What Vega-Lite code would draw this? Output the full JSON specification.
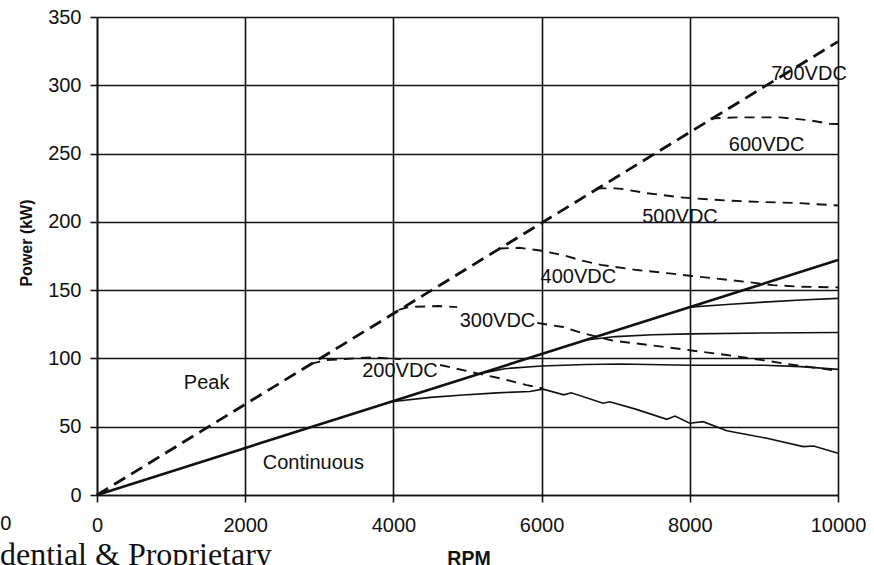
{
  "$schema": "https://vega.github.io/schema/vega-lite/v6.json",
  "width": 741,
  "height": 478,
  "autosize": {"type": "none"},
  "padding": {"left": 97, "top": 17, "right": 36, "bottom": 70},
  "background": "white",
  "config": {
    "view": {"stroke": null},
    "axis": {
      "domainColor": "#111", "domainWidth": 1.6,
      "gridColor": "#111", "gridWidth": 1.6, "gridOpacity": 1,
      "tickColor": "#111", "tickWidth": 1.6, "tickSize": 7,
      "labelFont": "Liberation Sans", "labelFontSize": 20, "labelColor": "#111",
      "labelFlush": false, "labelOverlap": false, "format": "d",
      "titleFont": "Liberation Sans", "titleFontWeight": "bold", "titleColor": "#111"
    }
  },
  "datasets": {
    "curves": [
      {"curve": "Peak", "kind": "envelope-peak", "rpm": 0, "kw": 0},
      {"curve": "Peak", "kind": "envelope-peak", "rpm": 10000, "kw": 332},
      {"curve": "Continuous", "kind": "envelope-continuous", "rpm": 0, "kw": 0},
      {"curve": "Continuous", "kind": "envelope-continuous", "rpm": 10000, "kw": 172},

      {"curve": "200VDC", "kind": "peak", "rpm": 2880, "kw": 96},
      {"curve": "200VDC", "kind": "peak", "rpm": 3100, "kw": 98.8},
      {"curve": "200VDC", "kind": "peak", "rpm": 3400, "kw": 99.8},
      {"curve": "200VDC", "kind": "peak", "rpm": 3700, "kw": 100.8},
      {"curve": "200VDC", "kind": "peak", "rpm": 4100, "kw": 99.5},
      {"curve": "200VDC", "kind": "peak", "rpm": 4400, "kw": null},
      {"curve": "200VDC", "kind": "peak", "rpm": 4630, "kw": 95.2},
      {"curve": "200VDC", "kind": "peak", "rpm": 5030, "kw": 90.3},
      {"curve": "200VDC", "kind": "peak", "rpm": 5440, "kw": 85.4},
      {"curve": "200VDC", "kind": "peak", "rpm": 5800, "kw": 80.5},
      {"curve": "200VDC", "kind": "peak", "rpm": 6020, "kw": 78},

      {"curve": "300VDC", "kind": "peak", "rpm": 4070, "kw": 135.5},
      {"curve": "300VDC", "kind": "peak", "rpm": 4200, "kw": 137.6},
      {"curve": "300VDC", "kind": "peak", "rpm": 4600, "kw": 138.4},
      {"curve": "300VDC", "kind": "peak", "rpm": 4860, "kw": 137.6},
      {"curve": "300VDC", "kind": "peak", "rpm": 5400, "kw": null},
      {"curve": "300VDC", "kind": "peak", "rpm": 5940, "kw": 126},
      {"curve": "300VDC", "kind": "peak", "rpm": 6290, "kw": 123},
      {"curve": "300VDC", "kind": "peak", "rpm": 6520, "kw": 119},
      {"curve": "300VDC", "kind": "peak", "rpm": 6960, "kw": 113},
      {"curve": "300VDC", "kind": "peak", "rpm": 7500, "kw": 109.5},
      {"curve": "300VDC", "kind": "peak", "rpm": 8000, "kw": 106},
      {"curve": "300VDC", "kind": "peak", "rpm": 8500, "kw": 102.5},
      {"curve": "300VDC", "kind": "peak", "rpm": 9040, "kw": 98.3},
      {"curve": "300VDC", "kind": "peak", "rpm": 9310, "kw": 95.9},
      {"curve": "300VDC", "kind": "peak", "rpm": 10000, "kw": 91},

      {"curve": "400VDC", "kind": "peak", "rpm": 5420, "kw": 180.5},
      {"curve": "400VDC", "kind": "peak", "rpm": 5700, "kw": 181},
      {"curve": "400VDC", "kind": "peak", "rpm": 5980, "kw": 179},
      {"curve": "400VDC", "kind": "peak", "rpm": 6300, "kw": 175.5},
      {"curve": "400VDC", "kind": "peak", "rpm": 6520, "kw": 172},
      {"curve": "400VDC", "kind": "peak", "rpm": 6800, "kw": 168.5},
      {"curve": "400VDC", "kind": "peak", "rpm": 7290, "kw": 164.7},
      {"curve": "400VDC", "kind": "peak", "rpm": 7690, "kw": 162.5},
      {"curve": "400VDC", "kind": "peak", "rpm": 8000, "kw": 160.5},
      {"curve": "400VDC", "kind": "peak", "rpm": 8310, "kw": 158.8},
      {"curve": "400VDC", "kind": "peak", "rpm": 8770, "kw": 156},
      {"curve": "400VDC", "kind": "peak", "rpm": 9120, "kw": 153.7},
      {"curve": "400VDC", "kind": "peak", "rpm": 9500, "kw": 152.5},
      {"curve": "400VDC", "kind": "peak", "rpm": 10000, "kw": 152},

      {"curve": "500VDC", "kind": "peak", "rpm": 6740, "kw": 224.5},
      {"curve": "500VDC", "kind": "peak", "rpm": 7000, "kw": 224.5},
      {"curve": "500VDC", "kind": "peak", "rpm": 7100, "kw": 224},
      {"curve": "500VDC", "kind": "peak", "rpm": 7420, "kw": 221},
      {"curve": "500VDC", "kind": "peak", "rpm": 7870, "kw": 218},
      {"curve": "500VDC", "kind": "peak", "rpm": 8100, "kw": 217},
      {"curve": "500VDC", "kind": "peak", "rpm": 8540, "kw": 215.5},
      {"curve": "500VDC", "kind": "peak", "rpm": 9000, "kw": 214.5},
      {"curve": "500VDC", "kind": "peak", "rpm": 9450, "kw": 213.8},
      {"curve": "500VDC", "kind": "peak", "rpm": 10000, "kw": 212},

      {"curve": "600VDC", "kind": "peak", "rpm": 8280, "kw": 275.7},
      {"curve": "600VDC", "kind": "peak", "rpm": 8640, "kw": 276.5},
      {"curve": "600VDC", "kind": "peak", "rpm": 9220, "kw": 276.5},
      {"curve": "600VDC", "kind": "peak", "rpm": 9600, "kw": 274.5},
      {"curve": "600VDC", "kind": "peak", "rpm": 9890, "kw": 271.8},
      {"curve": "600VDC", "kind": "peak", "rpm": 10000, "kw": 271.6},

      {"curve": "200VDC", "kind": "continuous", "rpm": 3970, "kw": 68.3},
      {"curve": "200VDC", "kind": "continuous", "rpm": 4500, "kw": 71.5},
      {"curve": "200VDC", "kind": "continuous", "rpm": 4940, "kw": 73.2},
      {"curve": "200VDC", "kind": "continuous", "rpm": 5400, "kw": 74.8},
      {"curve": "200VDC", "kind": "continuous", "rpm": 5840, "kw": 75.8},
      {"curve": "200VDC", "kind": "continuous", "rpm": 6020, "kw": 77.5},
      {"curve": "200VDC", "kind": "continuous", "rpm": 6300, "kw": 73.3},
      {"curve": "200VDC", "kind": "continuous", "rpm": 6400, "kw": 74.8},
      {"curve": "200VDC", "kind": "continuous", "rpm": 6830, "kw": 67.2},
      {"curve": "200VDC", "kind": "continuous", "rpm": 6920, "kw": 68.3},
      {"curve": "200VDC", "kind": "continuous", "rpm": 7280, "kw": 62.7},
      {"curve": "200VDC", "kind": "continuous", "rpm": 7690, "kw": 55.4},
      {"curve": "200VDC", "kind": "continuous", "rpm": 7800, "kw": 57.8},
      {"curve": "200VDC", "kind": "continuous", "rpm": 8000, "kw": 52.5},
      {"curve": "200VDC", "kind": "continuous", "rpm": 8180, "kw": 53.7},
      {"curve": "200VDC", "kind": "continuous", "rpm": 8500, "kw": 47.1},
      {"curve": "200VDC", "kind": "continuous", "rpm": 9040, "kw": 41.5},
      {"curve": "200VDC", "kind": "continuous", "rpm": 9530, "kw": 35.4},
      {"curve": "200VDC", "kind": "continuous", "rpm": 9670, "kw": 35.9},
      {"curve": "200VDC", "kind": "continuous", "rpm": 10000, "kw": 30.5},

      {"curve": "300VDC", "kind": "continuous", "rpm": 5150, "kw": 88.6},
      {"curve": "300VDC", "kind": "continuous", "rpm": 5500, "kw": 92.5},
      {"curve": "300VDC", "kind": "continuous", "rpm": 6000, "kw": 94.5},
      {"curve": "300VDC", "kind": "continuous", "rpm": 6600, "kw": 95.5},
      {"curve": "300VDC", "kind": "continuous", "rpm": 7060, "kw": 95.9},
      {"curve": "300VDC", "kind": "continuous", "rpm": 8000, "kw": 95},
      {"curve": "300VDC", "kind": "continuous", "rpm": 9000, "kw": 95},
      {"curve": "300VDC", "kind": "continuous", "rpm": 9500, "kw": 94},
      {"curve": "300VDC", "kind": "continuous", "rpm": 10000, "kw": 92},

      {"curve": "400VDC", "kind": "continuous", "rpm": 6600, "kw": 113.5},
      {"curve": "400VDC", "kind": "continuous", "rpm": 7000, "kw": 116},
      {"curve": "400VDC", "kind": "continuous", "rpm": 7500, "kw": 117.3},
      {"curve": "400VDC", "kind": "continuous", "rpm": 8000, "kw": 118},
      {"curve": "400VDC", "kind": "continuous", "rpm": 9000, "kw": 118.6},
      {"curve": "400VDC", "kind": "continuous", "rpm": 10000, "kw": 119},

      {"curve": "500VDC", "kind": "continuous", "rpm": 8000, "kw": 137.6},
      {"curve": "500VDC", "kind": "continuous", "rpm": 8500, "kw": 139.5},
      {"curve": "500VDC", "kind": "continuous", "rpm": 9000, "kw": 141.2},
      {"curve": "500VDC", "kind": "continuous", "rpm": 9500, "kw": 142.8},
      {"curve": "500VDC", "kind": "continuous", "rpm": 10000, "kw": 144}
    ],
    "labels": [
      {"text": "700VDC", "rpm": 9609, "kw": 308.2},
      {"text": "600VDC", "rpm": 9036, "kw": 256},
      {"text": "500VDC", "rpm": 7868, "kw": 203.7},
      {"text": "400VDC", "rpm": 6496, "kw": 159.8},
      {"text": "300VDC", "rpm": 5405, "kw": 127.5},
      {"text": "200VDC", "rpm": 4089, "kw": 90.9},
      {"text": "Peak", "rpm": 1480, "kw": 81.8},
      {"text": "Continuous", "rpm": 2919, "kw": 23.2}
    ],
    "stray": [
      {"text": "0", "rpm": -1230, "kw": -21.6}
    ],
    "footer": [
      {"text": "dential & Proprietary", "rpm": -1310, "kw": -51.5}
    ]
  },
  "encoding": {
    "x": {
      "field": "rpm", "type": "quantitative",
      "scale": {"domain": [0, 10000], "nice": false, "zero": false},
      "axis": {
        "values": [0, 2000, 4000, 6000, 8000, 10000],
        "labelPadding": 13,
        "title": "RPM", "titleFontSize": 19.5,
        "titleX": 371.5, "titleY": 69, "titleAlign": "center", "titleBaseline": "alphabetic"
      }
    },
    "y": {
      "field": "kw", "type": "quantitative",
      "scale": {"domain": [0, 350], "nice": false, "zero": false},
      "axis": {
        "values": [0, 50, 100, 150, 200, 250, 300, 350],
        "labelPadding": 9,
        "title": "Power (kW)", "titleFontSize": 16, "titleAngle": -90,
        "titleX": -71, "titleY": 225.5, "titleAlign": "center", "titleBaseline": "middle"
      }
    }
  },
  "layer": [
    {
      "data": {"name": "curves"},
      "transform": [{"filter": "datum.kind == 'envelope-peak'"}],
      "mark": {"type": "line", "color": "#111", "strokeWidth": 2.8, "strokeDash": [13, 7]}
    },
    {
      "data": {"name": "curves"},
      "transform": [{"filter": "datum.kind == 'envelope-continuous'"}],
      "mark": {"type": "line", "color": "#111", "strokeWidth": 2.6}
    },
    {
      "data": {"name": "curves"},
      "transform": [{"filter": "datum.kind == 'peak'"}],
      "mark": {"type": "line", "color": "#111", "strokeWidth": 1.9, "strokeDash": [10, 7]},
      "encoding": {"detail": {"field": "curve"}}
    },
    {
      "data": {"name": "curves"},
      "transform": [{"filter": "datum.kind == 'continuous'"}],
      "mark": {"type": "line", "color": "#111", "strokeWidth": 1.6},
      "encoding": {"detail": {"field": "curve"}}
    },
    {
      "data": {"name": "labels"},
      "mark": {"type": "text", "font": "Liberation Sans", "fontSize": 20, "color": "#111", "align": "center", "baseline": "middle"},
      "encoding": {"text": {"field": "text"}}
    },
    {
      "data": {"name": "stray"},
      "mark": {"type": "text", "font": "Liberation Sans", "fontSize": 20, "color": "#111", "align": "center", "baseline": "middle"},
      "encoding": {"text": {"field": "text"}}
    },
    {
      "data": {"name": "footer"},
      "mark": {"type": "text", "font": "Liberation Serif", "fontSize": 32, "color": "#111", "align": "left", "baseline": "alphabetic"},
      "encoding": {"text": {"field": "text"}}
    }
  ]
}
